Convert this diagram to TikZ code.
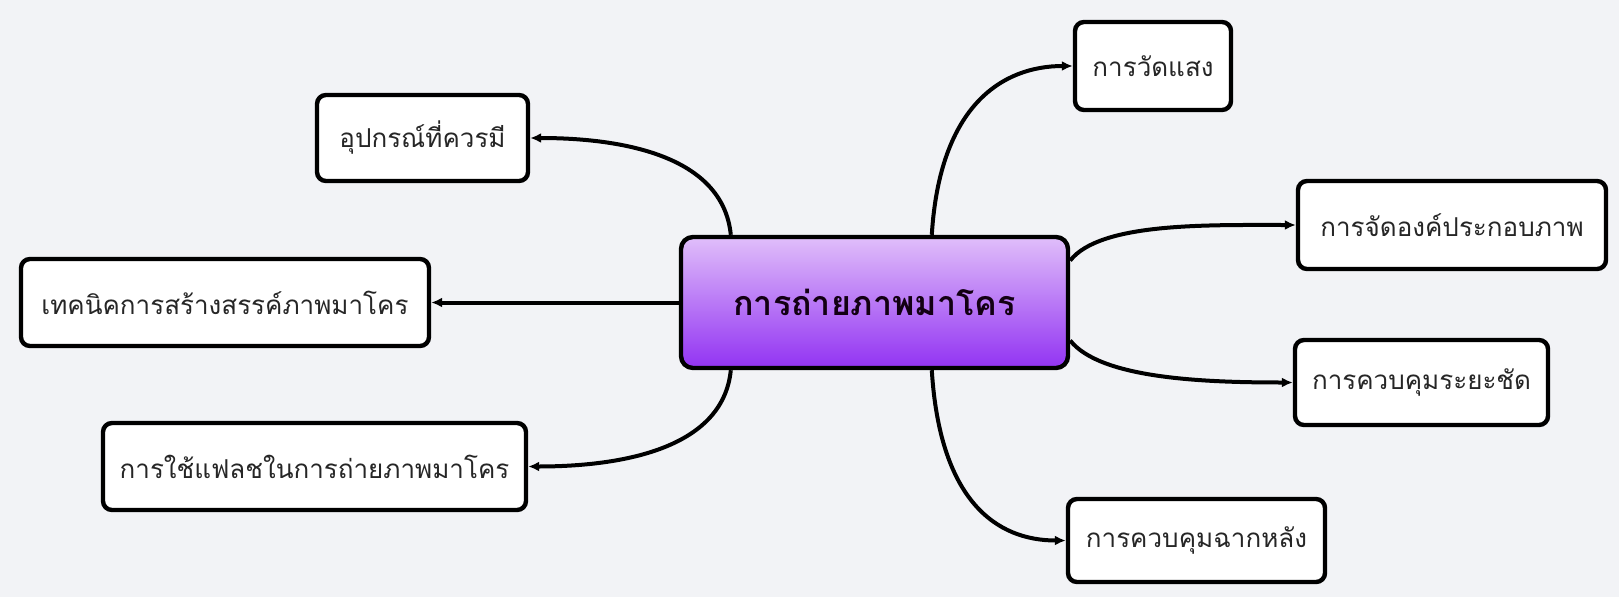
\documentclass[tikz,border=0pt]{standalone}
\usepackage{fontspec}
\newfontfamily\thaifont[Script=Thai]{Loma}
\usetikzlibrary{arrows.meta}
\definecolor{bgc}{HTML}{F2F3F6}
\definecolor{txt}{HTML}{262626}
\definecolor{ctop}{HTML}{E0BEFA}
\definecolor{cbot}{HTML}{9233F2}
\tikzset{
  leaf/.style={draw=black, line width=4.4pt, fill=white, rounded corners=9pt,
    inner sep=0pt, font=\thaifont\fontsize{26}{31}\selectfont, text=txt, anchor=center},
  hub/.style={draw=black, line width=4.4pt, rounded corners=12pt, top color=ctop, bottom color=cbot,
    inner sep=0pt, font=\thaifont\bfseries\fontsize{34}{40}\selectfont, text=black!85!violet},
  link/.style={line width=4pt, draw=black, -{Latex[length=11pt,width=10pt]}}
}
\begin{document}
\begin{tikzpicture}[x=1pt,y=-1pt]
\fill[bgc] (0,0) rectangle (1619,597);
\useasboundingbox (0,0) rectangle (1619,597);
\node[hub, minimum width=387pt, minimum height=131pt] (c) at (874.5,302.5) {การถ่ายภาพมาโคร};
\node[leaf, minimum width=211pt, minimum height=86pt] (a) at (422.5,138) {อุปกรณ์ที่ควรมี};
\node[leaf, minimum width=408pt, minimum height=87pt] (b) at (225,302.5) {เทคนิคการสร้างสรรค์ภาพมาโคร};
\node[leaf, minimum width=423pt, minimum height=87pt] (d) at (314.5,466.5) {การใช้แฟลชในการถ่ายภาพมาโคร};
\node[leaf, minimum width=156pt, minimum height=88pt] (e) at (1153,66) {การวัดแสง};
\node[leaf, minimum width=308pt, minimum height=88pt] (f) at (1452,225) {การจัดองค์ประกอบภาพ};
\node[leaf, minimum width=253pt, minimum height=85pt] (g) at (1421.5,382.5) {การควบคุมระยะชัด};
\node[leaf, minimum width=257pt, minimum height=83pt] (h) at (1196.5,540.5) {การควบคุมฉากหลัง};
\coordinate (tl) at ([xshift=52pt]c.north west);
\coordinate (tr) at ([xshift=253pt]c.north west);
\coordinate (bl) at ([xshift=52pt]c.south west);
\coordinate (br) at ([xshift=253pt]c.south west);
\coordinate (ru) at ([yshift=42pt]c.east);
\coordinate (rd) at ([yshift=-38pt]c.east);
\draw[link] (tl) .. controls +(-8,-80) and +(90,0) .. (a.east);
\draw[link] (c.west) -- (b.east);
\draw[link] (bl) .. controls +(-8,80) and +(90,0) .. (d.east);
\draw[link] (tr) .. controls +(8,-130) and +(-70,0) .. (e.west);
\draw[link] (ru) .. controls +(30,-38) and +(-90,0) .. (f.west);
\draw[link] (rd) .. controls +(30,38) and +(-90,0) .. (g.west);
\draw[link] (br) .. controls +(8,130) and +(-70,0) .. (h.west);
\end{tikzpicture}
\end{document}
